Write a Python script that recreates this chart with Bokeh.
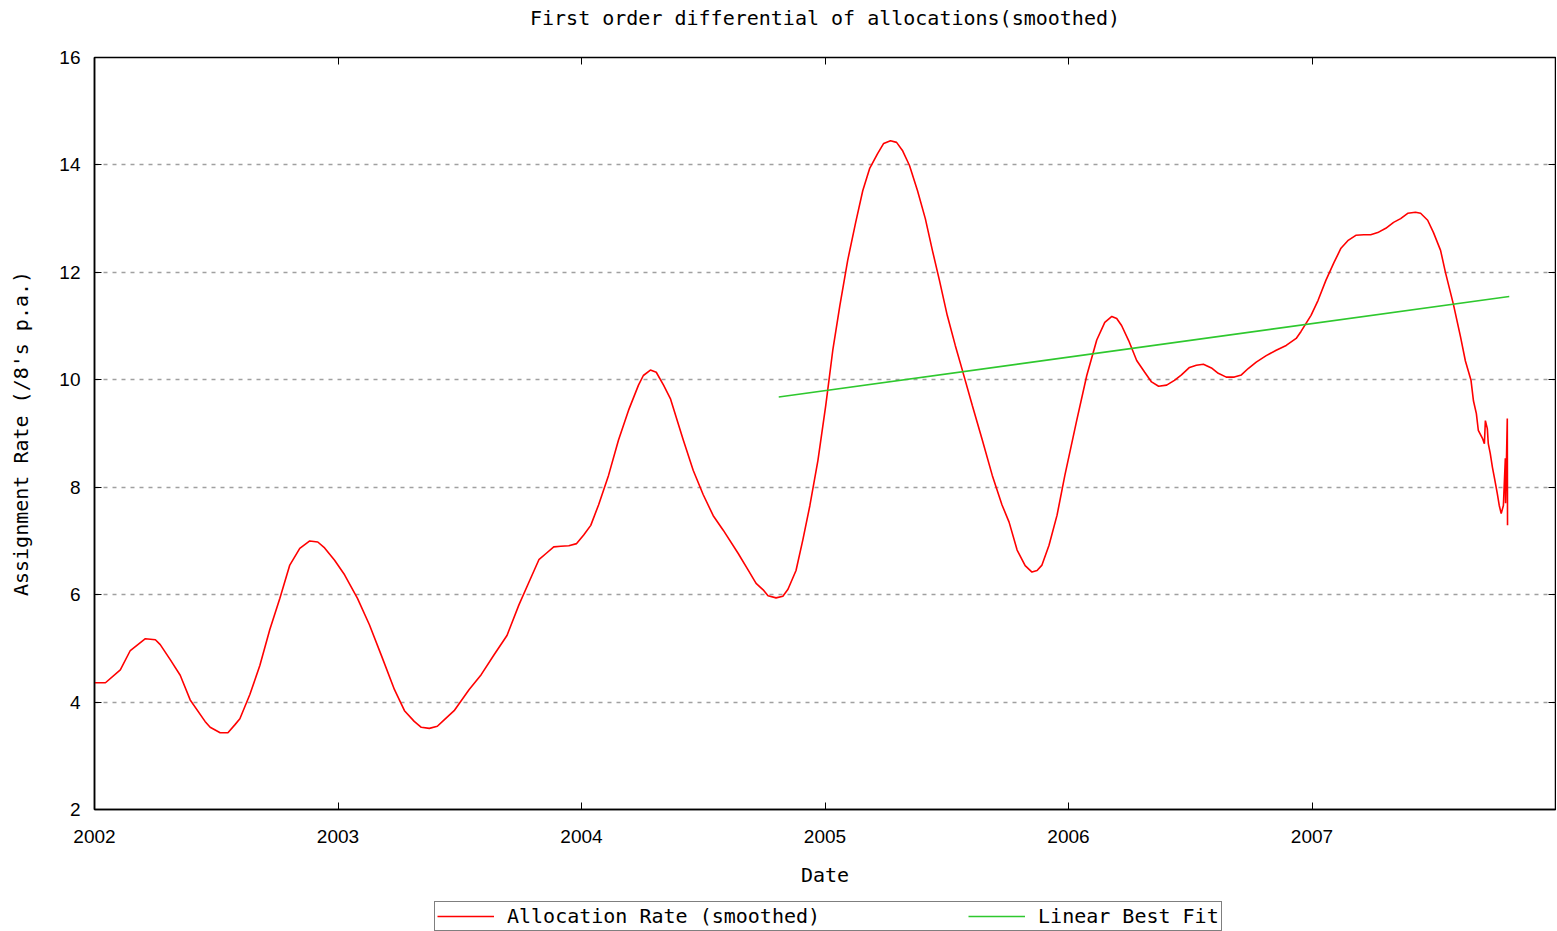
from bokeh.plotting import figure
from bokeh.models import Range1d, LinearAxis, FixedTicker, Legend, LegendItem, Label
from bokeh.layouts import column
from bokeh.embed import file_html
from bokeh.resources import INLINE

# ---- data (decimal years, allocation rate) ----
years = [2002.000, 2002.045, 2002.106, 2002.147, 2002.209, 2002.250, 2002.270, 2002.311,
         2002.352, 2002.393, 2002.454, 2002.475, 2002.516, 2002.548, 2002.577, 2002.597,
         2002.638, 2002.679, 2002.720, 2002.761, 2002.802, 2002.843, 2002.884, 2002.917,
         2002.945, 2002.986, 2003.027, 2003.080, 2003.129, 2003.178, 2003.232, 2003.273,
         2003.313, 2003.342, 2003.375, 2003.408, 2003.436, 2003.477, 2003.538, 2003.588,
         2003.641, 2003.694, 2003.743, 2003.784, 2003.825, 2003.858, 2003.886, 2003.915,
         2003.948, 2003.980, 2004.009, 2004.038, 2004.070, 2004.111, 2004.152, 2004.193,
         2004.234, 2004.254, 2004.283, 2004.307, 2004.337, 2004.365, 2004.418, 2004.459,
         2004.500, 2004.541, 2004.582, 2004.643, 2004.684, 2004.717, 2004.746, 2004.766,
         2004.799, 2004.827, 2004.848, 2004.881, 2004.909, 2004.938, 2004.971, 2005.003,
         2005.032, 2005.061, 2005.093, 2005.126, 2005.155, 2005.183, 2005.216, 2005.241,
         2005.269, 2005.294, 2005.318, 2005.347, 2005.380, 2005.412, 2005.441, 2005.470,
         2005.502, 2005.535, 2005.564, 2005.605, 2005.646, 2005.687, 2005.727, 2005.756,
         2005.789, 2005.822, 2005.850, 2005.871, 2005.891, 2005.920, 2005.953, 2005.985,
         2006.034, 2006.075, 2006.116, 2006.149, 2006.178, 2006.198, 2006.218, 2006.247,
         2006.280, 2006.313, 2006.341, 2006.370, 2006.403, 2006.435, 2006.464, 2006.497,
         2006.525, 2006.554, 2006.587, 2006.615, 2006.648, 2006.681, 2006.710, 2006.738,
         2006.771, 2006.812, 2006.853, 2006.894, 2006.935, 2006.955, 2006.996, 2007.025,
         2007.057, 2007.090, 2007.119, 2007.147, 2007.180, 2007.213, 2007.241, 2007.270,
         2007.303, 2007.335, 2007.364, 2007.393, 2007.425, 2007.446, 2007.475, 2007.499,
         2007.528, 2007.548, 2007.581, 2007.610, 2007.630, 2007.653, 2007.663, 2007.675,
         2007.683, 2007.700, 2007.708, 2007.712, 2007.720, 2007.724, 2007.732, 2007.741,
         2007.749, 2007.761, 2007.769, 2007.777, 2007.786, 2007.794, 2007.795, 2007.802,
         2007.803]
rate = [4.36, 4.36, 4.60, 4.96, 5.18, 5.16, 5.07, 4.79,
        4.50, 4.04, 3.64, 3.53, 3.43, 3.43, 3.58, 3.69,
        4.14, 4.68, 5.35, 5.93, 6.55, 6.86, 7.00, 6.98,
        6.87, 6.64, 6.37, 5.93, 5.44, 4.87, 4.23, 3.84,
        3.64, 3.53, 3.51, 3.55, 3.67, 3.84, 4.23, 4.51,
        4.88, 5.24, 5.81, 6.23, 6.65, 6.78, 6.89, 6.90,
        6.91, 6.95, 7.11, 7.29, 7.67, 8.22, 8.88, 9.43,
        9.90, 10.08, 10.18, 10.14, 9.90, 9.65, 8.88, 8.31,
        7.86, 7.47, 7.20, 6.77, 6.46, 6.21, 6.09, 5.98,
        5.94, 5.97, 6.10, 6.45, 7.02, 7.66, 8.50, 9.52,
        10.55, 11.38, 12.22, 12.93, 13.52, 13.93, 14.21, 14.40,
        14.45, 14.42, 14.27, 13.99, 13.52, 13.00, 12.41, 11.85,
        11.20, 10.64, 10.18, 9.52, 8.88, 8.22, 7.67, 7.35,
        6.83, 6.54, 6.42, 6.45, 6.55, 6.92, 7.48, 8.22,
        9.25, 10.08, 10.74, 11.07, 11.18, 11.14, 11.01, 10.73,
        10.36, 10.14, 9.96, 9.88, 9.90, 9.99, 10.09, 10.23,
        10.27, 10.29, 10.22, 10.12, 10.05, 10.05, 10.09, 10.21,
        10.33, 10.45, 10.55, 10.64, 10.77, 10.90, 11.20, 11.48,
        11.85, 12.18, 12.45, 12.59, 12.69, 12.70, 12.70, 12.74,
        12.82, 12.93, 13.00, 13.10, 13.12, 13.10, 12.97, 12.74,
        12.41, 12.00, 11.40, 10.80, 10.35, 9.99, 9.61, 9.37,
        9.06, 8.91, 8.81, 9.24, 9.09, 8.81, 8.63, 8.37,
        8.18, 7.88, 7.66, 7.51, 7.66, 8.54, 7.70, 9.28,
        7.29]

fit_years = [2004.81, 2007.81]
fit_rate = [9.68, 11.55]

x_ticks = [2002, 2003, 2004, 2005, 2006, 2007]
y_ticks = [2, 4, 6, 8, 10, 12, 14, 16]

series_names = ["Allocation Rate (smoothed)", "Linear Best Fit"]
series_colors = ["#ff0000", "#2ec82e"]
chart_title = "First order differential of allocations(smoothed)"

MONO = "DejaVu Sans Mono"
SANS = "Liberation Sans"


def strip(height):
    f = figure(width=1556, height=height, output_backend="svg", toolbar_location=None,
               x_range=Range1d(0, 1), y_range=Range1d(0, height),
               min_border_left=0, min_border_right=0, min_border_top=0,
               min_border_bottom=0)
    f.axis.visible = False
    f.grid.visible = False
    f.outline_line_color = None
    f.background_fill_color = "white"
    f.border_fill_color = "white"
    return f


# ---- title strip ----
ts = strip(40)
ts.add_layout(Label(x=0.5, y=23, text=chart_title, text_align="center",
                    text_baseline="middle", text_font=MONO, text_font_size="20px",
                    text_color="black"))

# ---- main chart ----
p = figure(width=1556, height=860, output_backend="svg", toolbar_location=None,
           x_range=Range1d(2002, 2008), y_range=Range1d(2, 16),
           x_axis_label="Date", y_axis_label="Assignment Rate (/8's p.a.)",
           min_border_left=94, min_border_top=17, min_border_right=1,
           min_border_bottom=91)

p.outline_line_color = "black"
p.outline_line_width = 1.5
p.outline_line_alpha = 1.0
p.background_fill_color = "white"
p.border_fill_color = "white"

for ax in (p.xaxis[0], p.yaxis[0]):
    ax.major_tick_in = 7
    ax.major_tick_out = 0
    ax.minor_tick_line_color = None
    ax.axis_line_color = "black"
    ax.axis_line_width = 1.5
    ax.major_tick_line_color = "black"
    ax.major_label_text_font = SANS
    ax.major_label_text_font_size = "19px"
    ax.major_label_text_color = "black"
    ax.axis_label_text_font = MONO
    ax.axis_label_text_font_size = "20px"
    ax.axis_label_text_font_style = "normal"
    ax.axis_label_text_color = "black"

p.xaxis[0].ticker = FixedTicker(ticks=x_ticks)
p.yaxis[0].ticker = FixedTicker(ticks=y_ticks)
p.xaxis[0].major_label_standoff = 20
p.xaxis[0].axis_label_standoff = 17
p.yaxis[0].major_label_standoff = 14
p.yaxis[0].axis_label_standoff = 23

# mirrored tick marks on top and right (no labels)
top_ax = LinearAxis(ticker=FixedTicker(ticks=x_ticks),
                    major_label_overrides={t: "" for t in x_ticks})
right_ax = LinearAxis(ticker=FixedTicker(ticks=y_ticks),
                      major_label_overrides={t: "" for t in y_ticks})
for ax in (top_ax, right_ax):
    ax.major_tick_in = 7
    ax.major_tick_out = 0
    ax.minor_tick_line_color = None
    ax.axis_line_color = None
    ax.major_label_text_font_size = "1px"
    ax.major_label_standoff = 0
    ax.major_tick_line_color = "black"
p.add_layout(top_ax, "above")
p.add_layout(right_ax, "right")

p.xgrid.grid_line_color = None
p.ygrid.ticker = FixedTicker(ticks=y_ticks)
p.ygrid.grid_line_color = "#a0a0a0"
p.ygrid.grid_line_dash = "4 5"
p.ygrid.grid_line_width = 1.5

p.line(years, rate, line_color=series_colors[0], line_width=1.6)
p.line(fit_years, fit_rate, line_color=series_colors[1], line_width=1.6)

# ---- legend strip below the chart (proxy renderers lie outside its ranges) ----
lg = strip(31)
lg.x_range = Range1d(0, 1)
lg.y_range = Range1d(0, 1)
proxy_x = [years, fit_years]
proxy_y = [rate, fit_rate]
items = []
for name, col, xs, ys in zip(series_names, series_colors, proxy_x, proxy_y):
    rr = lg.line(xs, ys, line_color=col, line_width=1.6)
    items.append(LegendItem(label=name, renderers=[rr]))

legend = Legend(items=items, orientation="horizontal", location=(340, 0))
legend.label_text_font = MONO
legend.label_text_font_size = "20px"
legend.label_text_color = "black"
legend.border_line_color = "black"
legend.border_line_width = 1.5
legend.background_fill_color = "white"
legend.background_fill_alpha = 1.0
legend.padding = 2
legend.spacing = 148
legend.glyph_width = 57
legend.glyph_height = 18
legend.label_standoff = 13
legend.label_height = 18
legend.margin = 0
lg.add_layout(legend, "center")

layout = column(ts, p, lg, spacing=0)
open("out.html", "w").write(file_html(layout, INLINE))
